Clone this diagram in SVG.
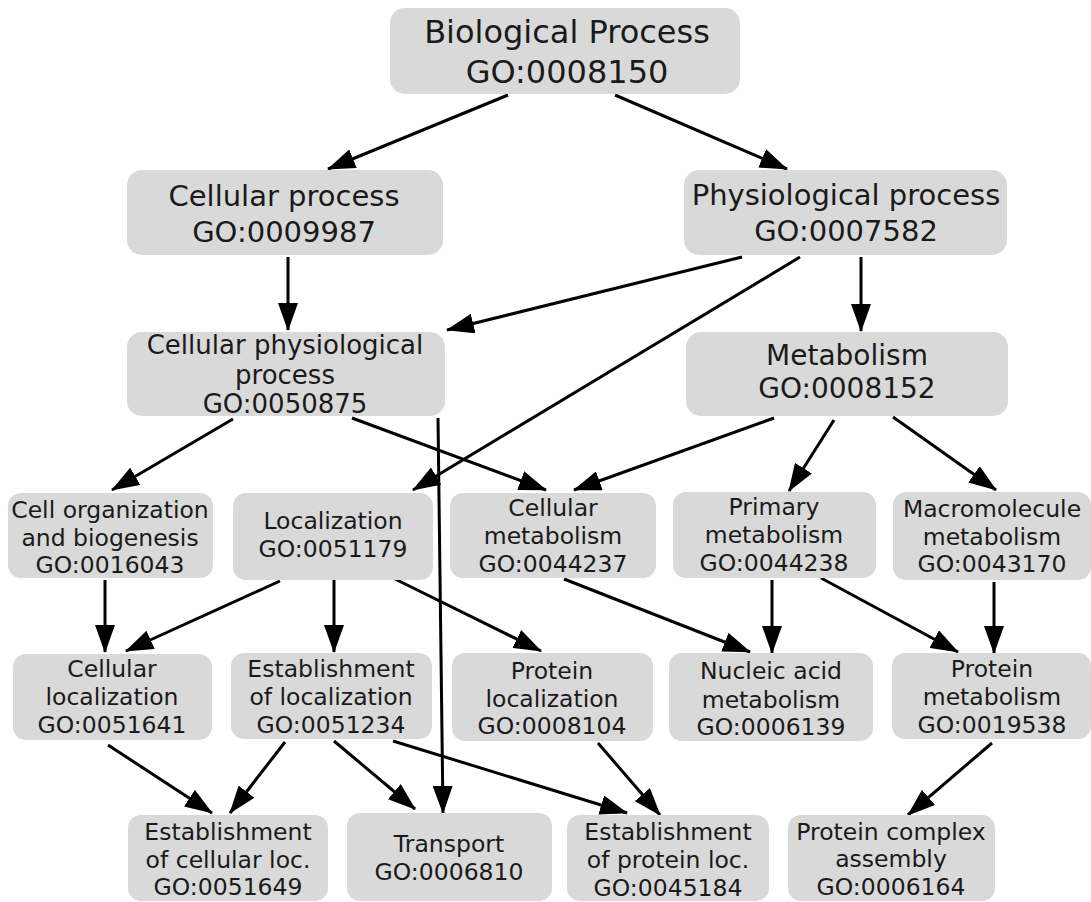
<svg xmlns="http://www.w3.org/2000/svg" width="1091" height="902" viewBox="0 0 1091 902">
<style>
.box{fill:#d9d9d9;}
text{font-family:"DejaVu Sans",Verdana,sans-serif;fill:#1a1a1a;text-anchor:middle;}
.f32{font-size:32px;}
.f29{font-size:29px;}
.f28{font-size:28px;}
.f26{font-size:26px;}
.f23{font-size:23.5px;}
.edge{stroke:#000;stroke-width:3;fill:none;marker-end:url(#arr);}
</style>
<defs>
<marker id="arr" markerUnits="userSpaceOnUse" viewBox="0 0 28 20" markerWidth="28" markerHeight="20" refX="27" refY="10" orient="auto">
<path d="M0,0 L28,10 L0,20 Z" fill="#000"/>
</marker>
</defs>
<rect width="1091" height="902" fill="#fff"/>
<g id="connectors">
<line class="edge" x1="508" y1="95" x2="328" y2="169"/>
<line class="edge" x1="615" y1="95" x2="787" y2="169"/>
<line class="edge" x1="288" y1="257" x2="288" y2="330"/>
<line class="edge" x1="742" y1="257" x2="447" y2="330"/>
<line class="edge" x1="800" y1="257" x2="413" y2="490"/>
<line class="edge" x1="861" y1="257" x2="861" y2="331"/>
<line class="edge" x1="233" y1="419" x2="112" y2="490"/>
<line class="edge" x1="352" y1="418" x2="546" y2="490"/>
<line class="edge" x1="438" y1="418" x2="443" y2="813"/>
<line class="edge" x1="774" y1="418" x2="574" y2="490"/>
<line class="edge" x1="834" y1="420" x2="789" y2="491"/>
<line class="edge" x1="893" y1="417" x2="996" y2="490"/>
<line class="edge" x1="105" y1="580" x2="105" y2="652"/>
<line class="edge" x1="280" y1="581" x2="126" y2="651"/>
<line class="edge" x1="334" y1="580" x2="334" y2="652"/>
<line class="edge" x1="395" y1="579" x2="541" y2="651"/>
<line class="edge" x1="564" y1="579" x2="750" y2="652"/>
<line class="edge" x1="772" y1="580" x2="772" y2="653"/>
<line class="edge" x1="821" y1="578" x2="958" y2="652"/>
<line class="edge" x1="994" y1="582" x2="994" y2="653"/>
<line class="edge" x1="108" y1="745" x2="212" y2="813"/>
<line class="edge" x1="285" y1="742" x2="230" y2="813"/>
<line class="edge" x1="334" y1="741" x2="415" y2="809"/>
<line class="edge" x1="393" y1="741" x2="627" y2="813"/>
<line class="edge" x1="598" y1="743" x2="660" y2="815"/>
<line class="edge" x1="992" y1="743" x2="908" y2="815"/>
</g>
<g id="n0008150"><rect class="box" x="390" y="8" width="350" height="86" rx="15"/><text class="f32" x="567" y="43">Biological Process</text><text class="f32" x="567" y="83">GO:0008150</text></g>
<g id="n0009987"><rect class="box" x="127" y="170" width="316" height="85" rx="15"/><text class="f29" x="284" y="206">Cellular process</text><text class="f29" x="284" y="242">GO:0009987</text></g>
<g id="n0007582"><rect class="box" x="684" y="170" width="323" height="85" rx="15"/><text class="f29" x="846" y="205">Physiological process</text><text class="f29" x="846" y="241">GO:0007582</text></g>
<g id="n0050875"><rect class="box" x="127" y="332" width="318" height="84" rx="15"/><text class="f26" x="285" y="354">Cellular physiological</text><text class="f26" x="285" y="384">process</text><text class="f26" x="285" y="413">GO:0050875</text></g>
<g id="n0008152"><rect class="box" x="686" y="332" width="322" height="84" rx="15"/><text class="f28" x="847" y="365">Metabolism</text><text class="f28" x="847" y="398">GO:0008152</text></g>
<g id="n0016043"><rect class="box" x="8" y="493" width="205" height="85" rx="13"/><text class="f23" x="110" y="518">Cell organization</text><text class="f23" x="110" y="546">and biogenesis</text><text class="f23" x="110" y="573">GO:0016043</text></g>
<g id="n0051179"><rect class="box" x="233" y="493" width="200" height="87" rx="13"/><text class="f23" x="333" y="529">Localization</text><text class="f23" x="333" y="557">GO:0051179</text></g>
<g id="n0044237"><rect class="box" x="450" y="493" width="206" height="85" rx="13"/><text class="f23" x="553" y="516">Cellular</text><text class="f23" x="553" y="544">metabolism</text><text class="f23" x="553" y="572">GO:0044237</text></g>
<g id="n0044238"><rect class="box" x="673" y="492" width="203" height="86" rx="13"/><text class="f23" x="774" y="515">Primary</text><text class="f23" x="774" y="543">metabolism</text><text class="f23" x="774" y="571">GO:0044238</text></g>
<g id="n0043170"><rect class="box" x="893" y="492" width="198" height="88" rx="13"/><text class="f23" x="992" y="517">Macromolecule</text><text class="f23" x="992" y="545">metabolism</text><text class="f23" x="992" y="572">GO:0043170</text></g>
<g id="n0051641"><rect class="box" x="13" y="654" width="199" height="86" rx="13"/><text class="f23" x="112" y="677">Cellular</text><text class="f23" x="112" y="705">localization</text><text class="f23" x="112" y="733">GO:0051641</text></g>
<g id="n0051234"><rect class="box" x="231" y="653" width="201" height="86" rx="13"/><text class="f23" x="331" y="677">Establishment</text><text class="f23" x="331" y="705">of localization</text><text class="f23" x="331" y="733">GO:0051234</text></g>
<g id="n0008104"><rect class="box" x="452" y="653" width="201" height="88" rx="13"/><text class="f23" x="552" y="679">Protein</text><text class="f23" x="552" y="707">localization</text><text class="f23" x="552" y="734">GO:0008104</text></g>
<g id="n0006139"><rect class="box" x="669" y="653" width="204" height="88" rx="13"/><text class="f23" x="771" y="679">Nucleic acid</text><text class="f23" x="771" y="708">metabolism</text><text class="f23" x="771" y="735">GO:0006139</text></g>
<g id="n0019538"><rect class="box" x="892" y="653" width="199" height="86" rx="13"/><text class="f23" x="992" y="677">Protein</text><text class="f23" x="992" y="705">metabolism</text><text class="f23" x="992" y="733">GO:0019538</text></g>
<g id="n0051649"><rect class="box" x="128" y="815" width="200" height="86" rx="13"/><text class="f23" x="228" y="840">Establishment</text><text class="f23" x="228" y="868">of cellular loc.</text><text class="f23" x="228" y="895">GO:0051649</text></g>
<g id="n0006810"><rect class="box" x="347" y="813" width="205" height="88" rx="13"/><text class="f23" x="449" y="852">Transport</text><text class="f23" x="449" y="880">GO:0006810</text></g>
<g id="n0045184"><rect class="box" x="567" y="815" width="202" height="86" rx="13"/><text class="f23" x="668" y="840">Establishment</text><text class="f23" x="668" y="868">of protein loc.</text><text class="f23" x="668" y="896">GO:0045184</text></g>
<g id="n0006164"><rect class="box" x="788" y="815" width="207" height="86" rx="13"/><text class="f23" x="891" y="840">Protein complex</text><text class="f23" x="891" y="867">assembly</text><text class="f23" x="891" y="895">GO:0006164</text></g>
</svg>
